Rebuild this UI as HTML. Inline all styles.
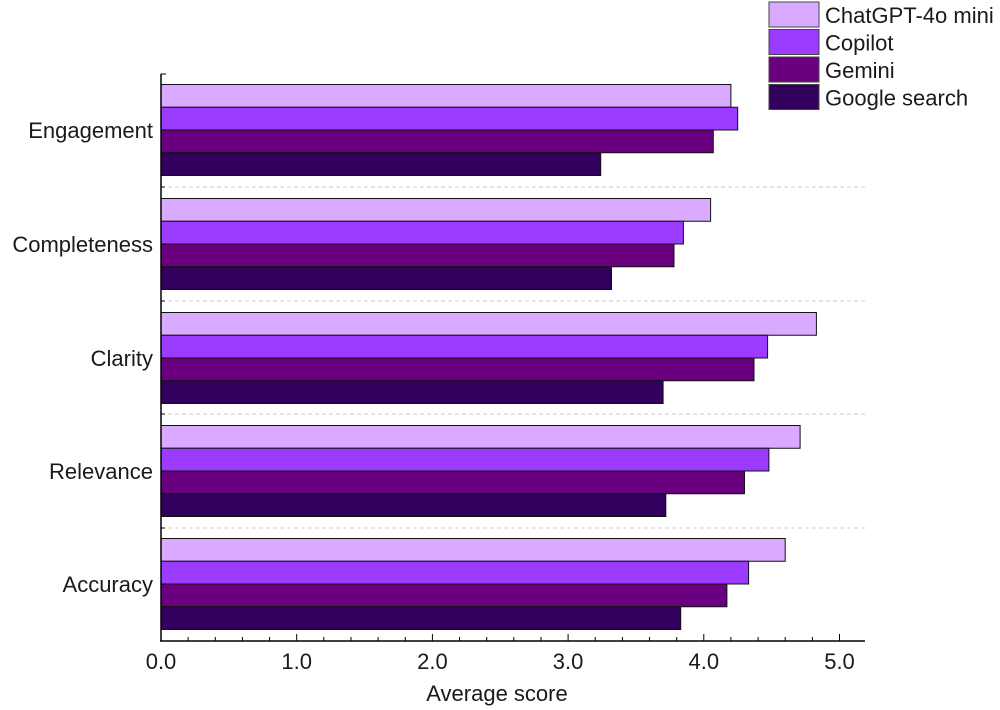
<!DOCTYPE html>
<html><head><meta charset="utf-8"><style>body{margin:0;background:#fff}svg{display:block}text{font-family:"Liberation Sans",Arial,sans-serif;fill:#1a1a1a;font-size:22px}</style></head><body>
<svg width="1000" height="710" viewBox="0 0 1000 710">
<g stroke="#ccc" stroke-dasharray="4,3">
<line x1="161" x2="865" y1="187" y2="187"/><line x1="161" x2="865" y1="301" y2="301"/><line x1="161" x2="865" y1="414" y2="414"/><line x1="161" x2="865" y1="528" y2="528"/>
</g>
<g stroke="#111" stroke-width="1">
<rect x="161" y="84.5" width="569.9" height="22.75" fill="#D9AAFF"/>
<rect x="161" y="107.25" width="576.7" height="22.75" fill="#9A3BFF"/>
<rect x="161" y="130" width="552.3" height="22.75" fill="#6A007F"/>
<rect x="161" y="152.75" width="439.7" height="22.75" fill="#33005E"/>
<rect x="161" y="198.5" width="549.6" height="22.75" fill="#D9AAFF"/>
<rect x="161" y="221.25" width="522.4" height="22.75" fill="#9A3BFF"/>
<rect x="161" y="244" width="513.0" height="22.75" fill="#6A007F"/>
<rect x="161" y="266.75" width="450.5" height="22.75" fill="#33005E"/>
<rect x="161" y="312.5" width="655.4" height="22.75" fill="#D9AAFF"/>
<rect x="161" y="335.25" width="606.6" height="22.75" fill="#9A3BFF"/>
<rect x="161" y="358" width="593.0" height="22.75" fill="#6A007F"/>
<rect x="161" y="380.75" width="502.1" height="22.75" fill="#33005E"/>
<rect x="161" y="425.5" width="639.1" height="22.75" fill="#D9AAFF"/>
<rect x="161" y="448.25" width="607.9" height="22.75" fill="#9A3BFF"/>
<rect x="161" y="471" width="583.5" height="22.75" fill="#6A007F"/>
<rect x="161" y="493.75" width="504.8" height="22.75" fill="#33005E"/>
<rect x="161" y="538.5" width="624.2" height="22.75" fill="#D9AAFF"/>
<rect x="161" y="561.25" width="587.6" height="22.75" fill="#9A3BFF"/>
<rect x="161" y="584" width="565.9" height="22.75" fill="#6A007F"/>
<rect x="161" y="606.75" width="519.7" height="22.75" fill="#33005E"/>
</g>
<g text-anchor="end">
<text x="153" y="138">Engagement</text>
<text x="153" y="252">Completeness</text>
<text x="153" y="366">Clarity</text>
<text x="153" y="479">Relevance</text>
<text x="153" y="592">Accuracy</text>
</g>
<g stroke="#000" stroke-width="1.5">
<line x1="161" x2="161" y1="74" y2="641"/>
<line x1="160" x2="865" y1="641" y2="641"/>
</g>
<g stroke="#000" stroke-width="1">
<line x1="161" x2="166" y1="74" y2="74"/>
<line x1="161" x2="166" y1="130" y2="130"/><line x1="161" x2="166" y1="244" y2="244"/><line x1="161" x2="166" y1="358" y2="358"/><line x1="161" x2="166" y1="471" y2="471"/><line x1="161" x2="166" y1="584" y2="584"/>
<line x1="161" x2="165" y1="187" y2="187"/><line x1="161" x2="165" y1="301" y2="301"/><line x1="161" x2="165" y1="414" y2="414"/><line x1="161" x2="165" y1="528" y2="528"/>
<line x1="188.1" x2="188.1" y1="641" y2="637"/><line x1="215.3" x2="215.3" y1="641" y2="637"/><line x1="242.4" x2="242.4" y1="641" y2="637"/><line x1="269.6" x2="269.6" y1="641" y2="637"/>
<line x1="296.7" x2="296.7" y1="641" y2="634"/>
<line x1="323.8" x2="323.8" y1="641" y2="637"/><line x1="351" x2="351" y1="641" y2="637"/><line x1="378.1" x2="378.1" y1="641" y2="637"/><line x1="405.3" x2="405.3" y1="641" y2="637"/>
<line x1="432.4" x2="432.4" y1="641" y2="634"/>
<line x1="459.5" x2="459.5" y1="641" y2="637"/><line x1="486.7" x2="486.7" y1="641" y2="637"/><line x1="513.8" x2="513.8" y1="641" y2="637"/><line x1="541" x2="541" y1="641" y2="637"/>
<line x1="568.1" x2="568.1" y1="641" y2="634"/>
<line x1="595.2" x2="595.2" y1="641" y2="637"/><line x1="622.4" x2="622.4" y1="641" y2="637"/><line x1="649.5" x2="649.5" y1="641" y2="637"/><line x1="676.7" x2="676.7" y1="641" y2="637"/>
<line x1="703.8" x2="703.8" y1="641" y2="634"/>
<line x1="730.9" x2="730.9" y1="641" y2="637"/><line x1="758.1" x2="758.1" y1="641" y2="637"/><line x1="785.2" x2="785.2" y1="641" y2="637"/><line x1="812.4" x2="812.4" y1="641" y2="637"/>
<line x1="839.5" x2="839.5" y1="641" y2="634"/>
</g>
<g text-anchor="middle">
<text x="161" y="669">0.0</text><text x="296.7" y="669">1.0</text><text x="432.4" y="669">2.0</text><text x="568.1" y="669">3.0</text><text x="703.8" y="669">4.0</text><text x="839.5" y="669">5.0</text>
<text x="497" y="701">Average score</text>
</g>
<g stroke="#444">
<rect x="769" y="2" width="50" height="25" fill="#D9AAFF"/>
<rect x="769" y="29.5" width="50" height="25" fill="#9A3BFF"/>
<rect x="769" y="57" width="50" height="25" fill="#6A007F"/>
<rect x="769" y="84.5" width="50" height="25" fill="#33005E"/>
</g>
<text x="825" y="23">ChatGPT-4o mini</text>
<text x="825" y="50.5">Copilot</text>
<text x="825" y="78">Gemini</text>
<text x="825" y="105.5">Google search</text>
</svg></body></html>
